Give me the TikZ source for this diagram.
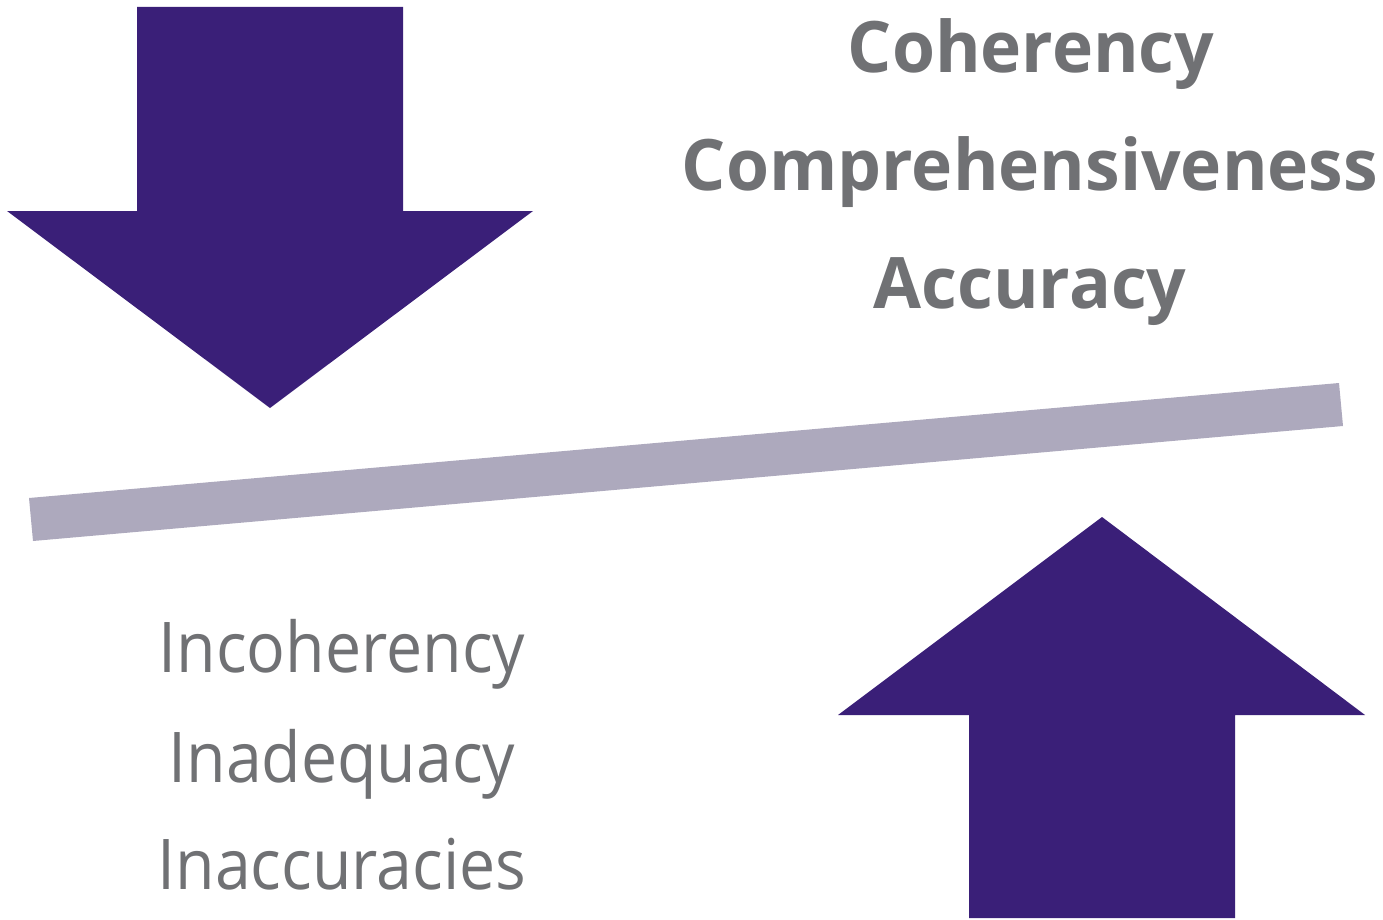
\documentclass[tikz,border=0pt]{standalone}
\usepackage{fontspec}
\setmainfont{Open Sans}
\newfontfamily\narrowreg[FakeStretch=0.92]{Open Sans}
\newfontfamily\narrowbold[FakeStretch=0.98,UprightFont={* Bold}]{Open Sans}
\definecolor{arrowpurple}{HTML}{3A1F78}
\definecolor{barcol}{HTML}{ADA9BD}
\definecolor{txtgray}{HTML}{707174}
\tikzset{
  bigarrow/.style={fill=arrowpurple, draw=none},
  beam/.style={fill=barcol, draw=none},
  goodtxt/.style={anchor=base, text=txtgray, inner sep=0pt, font=\narrowbold\fontsize{71}{76}\selectfont},
  badtxt/.style={anchor=base, text=txtgray, inner sep=0pt, font=\narrowreg\fontsize{70}{76}\selectfont},
}
\begin{document}
\begin{tikzpicture}[x=1pt,y=-1pt]
\useasboundingbox (0,0) rectangle (1383,920);
% down arrow
\fill[bigarrow] (137,7) -- (403,7) -- (403,211) -- (533,211) -- (270,408) -- (7,211) -- (137,211) -- cycle;
% up arrow
\fill[bigarrow] (969,918) -- (1235,918) -- (1235,715) -- (1365,715) -- (1102,517) -- (838,715) -- (969,715) -- cycle;
% beam
\fill[beam] (29,498) -- (33,541) -- (1343,426) -- (1339,383) -- cycle;
% texts
\node[goodtxt] (coh) at (1031,73) {Coherency};
\node[goodtxt] (comp) at (1030,190) {Comprehensiveness};
\node[goodtxt] (acc) at (1030,308) {Accuracy};
\node[badtxt] (incoh) at (342,672) {Incoherency};
\node[badtxt] (inad) at (342,782) {Inadequacy};
\node[badtxt] (inacc) at (342,889) {Inaccuracies};
\end{tikzpicture}
\end{document}
